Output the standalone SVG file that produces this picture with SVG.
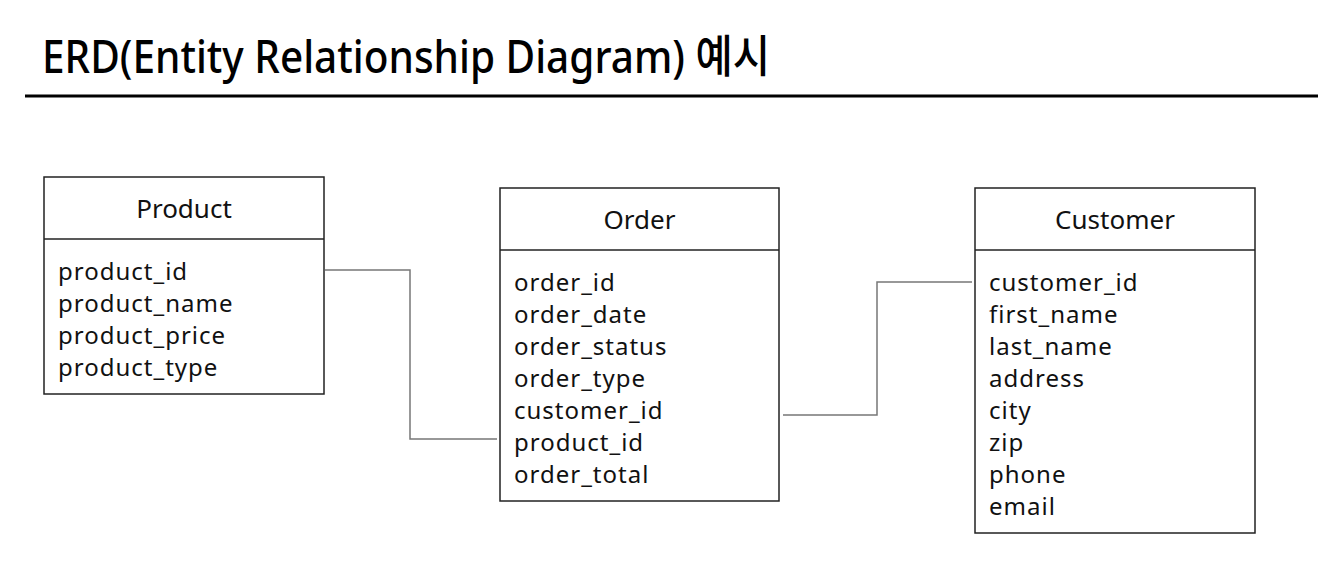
<svg xmlns="http://www.w3.org/2000/svg" width="1318" height="580" viewBox="0 0 1318 580">
<style>
.box{fill:#fff;stroke:#222;stroke-width:1.5}
.div{stroke:#222;stroke-width:1.5}
.hdr{font-family:"Noto Sans","Noto Sans CJK KR",sans-serif;font-size:26px;fill:#111;text-anchor:middle}
.att{font-family:"Noto Sans","Noto Sans CJK KR",sans-serif;font-size:24px;letter-spacing:1px;fill:#111}
.conn{fill:none;stroke:#777;stroke-width:1.5}
.title{font-family:"Noto Sans","Noto Sans CJK KR",sans-serif;font-size:45px;font-weight:500;fill:#000}
</style>
<rect width="1318" height="580" fill="#fff"/>
<text class="title" x="42" y="73" textLength="728" lengthAdjust="spacingAndGlyphs">ERD(Entity Relationship Diagram) 예시</text>
<line x1="25" y1="96" x2="1318" y2="96" stroke="#000" stroke-width="3"/>
<g id="connectors">
<polyline class="conn" points="325,270 410,270 410,439 497,439"/>
<polyline class="conn" points="783,415 877,415 877,282 972,282"/>
</g>
<g id="product">
<rect class="box" x="44" y="177" width="280" height="217"/>
<line class="div" x1="44" y1="239" x2="324" y2="239"/>
<text class="hdr" x="184" y="218">Product</text>
<text class="att" x="58" y="280">product_id</text>
<text class="att" x="58" y="312">product_name</text>
<text class="att" x="58" y="344">product_price</text>
<text class="att" x="58" y="376">product_type</text>
</g>
<g id="order">
<rect class="box" x="500" y="188" width="279" height="313"/>
<line class="div" x1="500" y1="250" x2="779" y2="250"/>
<text class="hdr" x="639.5" y="229">Order</text>
<text class="att" x="514" y="291">order_id</text>
<text class="att" x="514" y="323">order_date</text>
<text class="att" x="514" y="355">order_status</text>
<text class="att" x="514" y="387">order_type</text>
<text class="att" x="514" y="419">customer_id</text>
<text class="att" x="514" y="451">product_id</text>
<text class="att" x="514" y="483">order_total</text>
</g>
<g id="customer">
<rect class="box" x="975" y="188" width="280" height="345"/>
<line class="div" x1="975" y1="250" x2="1255" y2="250"/>
<text class="hdr" x="1115" y="229">Customer</text>
<text class="att" x="989" y="291">customer_id</text>
<text class="att" x="989" y="323">first_name</text>
<text class="att" x="989" y="355">last_name</text>
<text class="att" x="989" y="387">address</text>
<text class="att" x="989" y="419">city</text>
<text class="att" x="989" y="451">zip</text>
<text class="att" x="989" y="483">phone</text>
<text class="att" x="989" y="515">email</text>
</g>
</svg>
